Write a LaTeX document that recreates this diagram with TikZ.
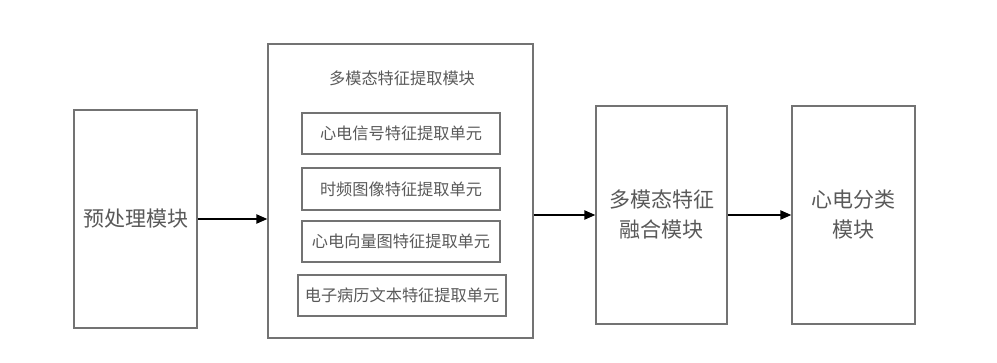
\documentclass[tikz,border=0pt]{standalone}
\usepackage{fontspec}
\newfontfamily\cjk{Noto Sans CJK SC}[Scale=1]
\usetikzlibrary{arrows.meta}
\begin{document}
\begin{tikzpicture}[x=1pt,y=-1pt,
  box/.style={draw=black!55,line width=1.2pt,inner sep=0pt,text=black!65},
  arr/.style={draw=black,line width=2pt,-{Triangle[length=11pt,width=9pt]}},
  bigtxt/.style={font=\cjk\fontsize{21}{30}\selectfont,align=center},
  smtxt/.style={font=\cjk\fontsize{16.2}{18}\selectfont}]
\useasboundingbox (0,0) rectangle (997,363);
\node[box,bigtxt,minimum width=123pt,minimum height=218pt] (pre) at (135.5,219) {预处理模块};
\node[box,minimum width=265pt,minimum height=294pt] (big) at (400.5,191) {};
\node[smtxt,text=black!65] (title) at (402,78) {多模态特征提取模块};
\node[box,smtxt,minimum width=198pt,minimum height=41pt] (u1) at (401,133.5) {心电信号特征提取单元};
\node[box,smtxt,minimum width=198pt,minimum height=42pt] (u2) at (401,189) {时频图像特征提取单元};
\node[box,smtxt,minimum width=198pt,minimum height=41pt] (u3) at (401,241.5) {心电向量图特征提取单元};
\node[box,smtxt,minimum width=208pt,minimum height=41pt] (u4) at (402,295.5) {电子病历文本特征提取单元};
\node[box,bigtxt,minimum width=131pt,minimum height=218pt] (fus) at (661.5,215) {多模态特征\\融合模块};
\node[box,bigtxt,minimum width=123pt,minimum height=218pt] (cls) at (853.5,215) {心电分类\\模块};
\draw[arr] (pre.east) -- (pre -| big.west);
\draw[arr] (fus -| big.east) -- (fus.west);
\draw[arr] (fus.east) -- (cls.west);
\end{tikzpicture}
\end{document}
